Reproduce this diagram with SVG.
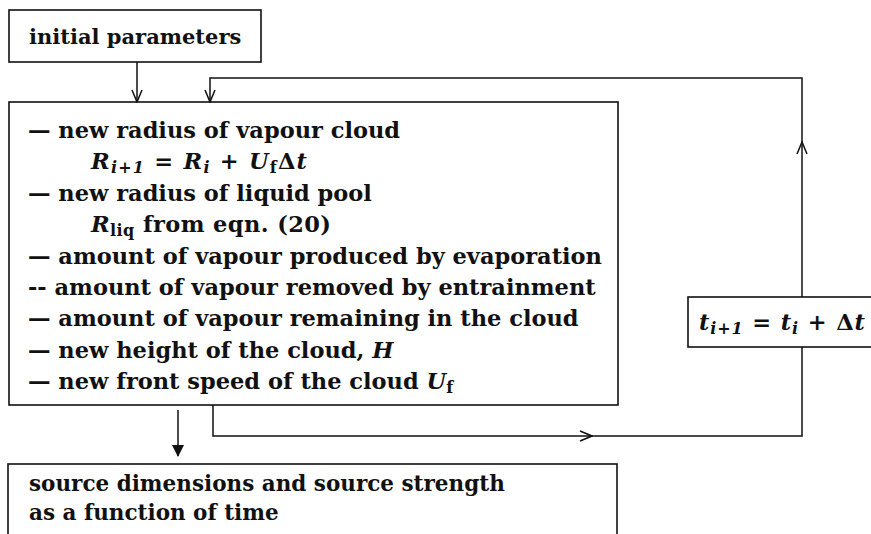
<svg xmlns="http://www.w3.org/2000/svg" width="871" height="534" viewBox="0 0 871 534">
<defs>
<style>
.box{fill:none;stroke:#111;stroke-width:1.6}
.ln{fill:none;stroke:#111;stroke-width:1.5}
.t{font-family:"DejaVu Serif","Liberation Serif",serif;font-weight:bold;font-size:22.5px;fill:#111}
.m{font-style:italic}
.s{font-size:16px}
</style>
<marker id="open" viewBox="0 0 14 12" refX="13" refY="6" markerWidth="14" markerHeight="12" markerUnits="userSpaceOnUse" orient="auto">
<path d="M1,1 L13,6 L1,11" fill="none" stroke="#111" stroke-width="1.5"/>
</marker>
<marker id="fill" viewBox="0 0 12 12" refX="11" refY="6" markerWidth="12" markerHeight="12" markerUnits="userSpaceOnUse" orient="auto">
<path d="M0,0 L12,6 L0,12 Z" fill="#111"/>
</marker>
</defs>
<rect width="871" height="534" fill="#fff"/>
<g id="connectors">
<path class="ln" d="M137,62 V102" marker-end="url(#open)"/>
<path class="ln" d="M178,410 V456" marker-end="url(#fill)"/>
<path class="ln" d="M213,405 V436 H592" marker-end="url(#open)"/>
<path class="ln" d="M590,436 H802 V347"/>
<path class="ln" d="M802,297 V142" marker-end="url(#open)"/>
<path class="ln" d="M802,144 V78 H210 V102" marker-end="url(#open)"/>
</g>
<g id="initial">
<rect class="box" x="9" y="10" width="252" height="52"/>
<text class="t" x="29" y="44" style="font-size:21px">initial parameters</text>
</g>
<g id="loop-body">
<rect class="box" x="9" y="102" width="609" height="303"/>
<text class="t" x="28" y="138">— new radius of vapour cloud</text>
<text class="t" x="91" y="169" textLength="216" lengthAdjust="spacing"><tspan class="m">R</tspan><tspan class="m s" dy="4">i+1</tspan><tspan dy="-4"> = </tspan><tspan class="m">R</tspan><tspan class="m s" dy="4">i</tspan><tspan dy="-4"> + </tspan><tspan class="m">U</tspan><tspan class="s" dy="4">f</tspan><tspan dy="-4">Δ</tspan><tspan class="m">t</tspan></text>
<text class="t" x="28" y="201">— new radius of liquid pool</text>
<text class="t" x="91" y="232" textLength="240" lengthAdjust="spacing"><tspan class="m">R</tspan><tspan class="s" dy="4">liq</tspan><tspan dy="-4"> from eqn. (20)</tspan></text>
<text class="t" x="28" y="264">— amount of vapour produced by evaporation</text>
<text class="t" x="28" y="295">-- amount of vapour removed by entrainment</text>
<text class="t" x="28" y="326">— amount of vapour remaining in the cloud</text>
<text class="t" x="28" y="358">— new height of the cloud, <tspan class="m">H</tspan></text>
<text class="t" x="28" y="389">— new front speed of the cloud <tspan class="m">U</tspan><tspan class="s" dy="4">f</tspan></text>
</g>
<g id="timestep">
<rect class="box" x="688" y="297" width="190" height="50"/>
<text class="t" x="699" y="330" textLength="166" lengthAdjust="spacing"><tspan class="m">t</tspan><tspan class="m s" dy="4">i+1</tspan><tspan dy="-4"> = </tspan><tspan class="m">t</tspan><tspan class="m s" dy="4">i</tspan><tspan dy="-4"> + Δ</tspan><tspan class="m">t</tspan></text>
</g>
<g id="result">
<rect class="box" x="8" y="464" width="609" height="90"/>
<text class="t" x="29" y="491" style="font-size:21.5px">source dimensions and source strength</text>
<text class="t" x="29" y="520" style="font-size:21.5px">as a function of time</text>
</g>
</svg>
